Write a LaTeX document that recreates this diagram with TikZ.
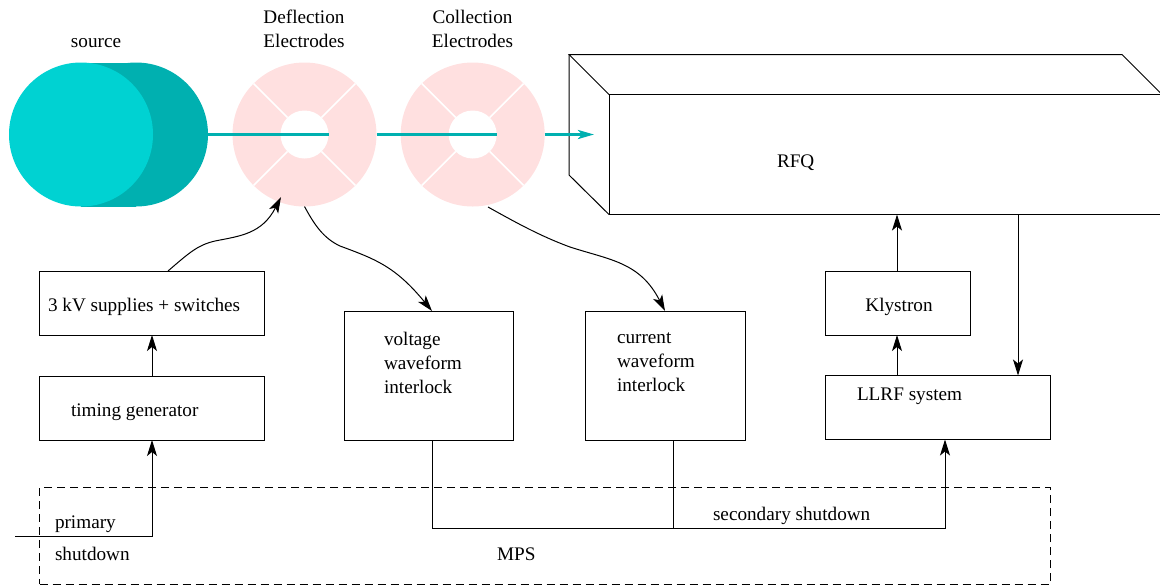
\documentclass[tikz,border=0pt]{standalone}
\usepackage{fontspec}
\setmainfont{Liberation Serif}
\usetikzlibrary{
  arrows.meta,
  calc,
  positioning
}
\definecolor{srcdark}{RGB}{0,176,176}
\definecolor{srclight}{RGB}{0,210,210}
\definecolor{ringpink}{RGB}{255,224,224}
\tikzset{
    box/.style = {draw, rectangle, inner sep = 0pt, outer sep = 0pt},
    label/.style = {inner sep = 0pt, outer sep = 0pt, align = left, anchor = west},
    title/.style = {inner sep = 0pt, outer sep = 0pt, align = center},
    disc/.style = {circle, inner sep = 0pt, outer sep = 0pt, minimum size = 72pt},
    ring/.style = {disc, fill = ringpink},
    hole/.style = {circle, fill = white, inner sep = 0pt, outer sep = 0pt, minimum size = 24pt},
    gap/.style = {white, line width = 0.8pt},
    beam/.style = {srcdark, line width = 1.9pt},
    link/.style = {line width = 0.5pt, -{Stealth[length = 8pt, width = 5pt, inset = 2pt]}},
    wire/.style = {line width = 0.5pt}
}
\begin{document}
\begin{tikzpicture}[x = 0.5pt, y = -0.5pt, line width = 0.5pt,
    every node/.append style = {font = \fontsize{9.6}{12}\selectfont}]
    \clip (0,0) rectangle (1160,585);

    \fill[srcdark] (81,62.5) rectangle (136,206.5);
    \node[disc, fill = srcdark] (back) at (136,134.5) {};
    \node[disc, fill = srclight] (front) at (81,134.5) {};

    \node[ring] (deflect) at (304.5,134.5) {};
    \node[ring] (collect) at (472.7,134.5) {};
    \foreach \ringname in {deflect, collect} {
        \node[hole] (\ringname hole) at (\ringname) {};
        \foreach \ang in {45, 135, 225, 315}
            \draw[gap] ($(\ringname)+(\ang:12pt)$) -- (\ringname.\ang);
    }

    \node[title] (sourcetext) at (96,43) {source};
    \node[title] (deflecttext) at (304,29) {Deflection\\Electrodes};
    \node[title] (collecttext) at (472.5,29) {Collection\\Electrodes};

    \coordinate (beamend) at (594,134.5);
    \draw[beam] (back.east) -- (deflecthole.east);
    \draw[beam] (deflect.east) -- (collecthole.east);

    \node[box, minimum width = 276pt, minimum height = 60pt] (rfq) at (885,154.5) {};
    \node[label] (rfqtext) at (777,163) {RFQ};
    \coordinate (rfqback) at (569,54.5);
    \coordinate (rfqbacklow) at (569,175);
    \coordinate (rfqtop) at (1122,54.5);
    \coordinate (rfqedge) at (1160,92.5);
    \draw (rfq.north west) -- (rfqback) -- (rfqtop) -- (rfqedge);
    \draw (rfqback) -- (rfqbacklow) -- (rfq.south west);
    \draw[beam, -{Stealth[length = 8pt, width = 4.5pt, inset = 2pt]}] (collect.east) -- (beamend);

    \node[box, minimum width = 112.5pt, minimum height = 32pt] (supplies) at (151.5,303) {};
    \node[label] (suppliestext) at (48,307) {3 kV supplies + switches};
    \node[box, minimum width = 112.5pt, minimum height = 32pt] (timing) at (151.5,408) {};
    \node[label] (timingtext) at (71,412) {timing generator};
    \node[box, minimum width = 84.5pt, minimum height = 64.5pt] (voltage) at (428.5,375.5) {};
    \node[label] (voltagetext) at (384,362.5) {voltage\\waveform\\interlock};
    \node[box, minimum width = 80pt, minimum height = 64.5pt] (current) at (665,375.5) {};
    \node[label] (currenttext) at (617,362.5) {current\\waveform\\interlock};
    \node[box, minimum width = 72.25pt, minimum height = 32pt] (klystron) at (897.75,303) {};
    \node[title] (klystrontext) at (899,307) {Klystron};
    \node[box, minimum width = 112.5pt, minimum height = 32pt] (llrf) at (938,407.5) {};
    \node[label] (llrftext) at (857,396) {LLRF system};
    \node[box, dash pattern = on 4pt off 2.5pt, minimum width = 505.5pt, minimum height = 48.25pt] (mps) at (545,535.75) {};
    \node[label] (mpstext) at (497,554) {MPS};
    \node[label] (primarytext) at (55,524) {primary};
    \node[label] (shutdowntext) at (55,554) {shutdown};
    \node[label] (secondarytext) at (713,516) {secondary shutdown};

    \coordinate (primaryin) at (15,536);
    \coordinate (suppliesout) at (168,271);
    \coordinate (deflectin) at (281,197);
    \coordinate (collectout) at (488,207);
    \coordinate (voltagein) at (432,311);
    \coordinate (currentin) at (665,311);
    \coordinate (klyout) at (897,271);
    \coordinate (rfqin) at (897,214.5);
    \coordinate (klyin) at (897,335);
    \coordinate (llrfout) at (897,375.5);
    \coordinate (rfqout) at (1018,214.5);
    \coordinate (llrfin) at (1018,375.5);
    \coordinate (llrfsec) at (945,439.5);
    \coordinate (voltageout) at (432,440);
    \coordinate (currentout) at (673,440);
    \coordinate (timingin) at (152,440);
    \coordinate (timingout) at (152,376);
    \coordinate (suppliesin) at (152,335);

    \draw[link] (primaryin) -- (152,536) -- (timingin);
    \draw[link] (timingout) -- (suppliesin);
    \draw[link] (suppliesout) .. controls (190,252) and (198,245) .. (215,241)
        .. controls (240,236) and (262,234) .. (deflectin);
    \draw[link] (deflect.south) .. controls (314,224) and (323,238) .. (340,246)
        .. controls (375,259) and (395,266) .. (voltagein);
    \draw[link] (collectout) .. controls (515,222) and (540,236) .. (570,247)
        .. controls (610,260) and (640,262) .. (currentin);
    \draw[link] (klyout) -- (rfqin);
    \draw[link] (llrfout) -- (klyin);
    \draw[link] (rfqout) -- (llrfin);
    \draw[link] (voltageout) -- (432,528) -- (945,528) -- (llrfsec);
    \draw[wire] (currentout) -- (673,528);
\end{tikzpicture}
\end{document}
